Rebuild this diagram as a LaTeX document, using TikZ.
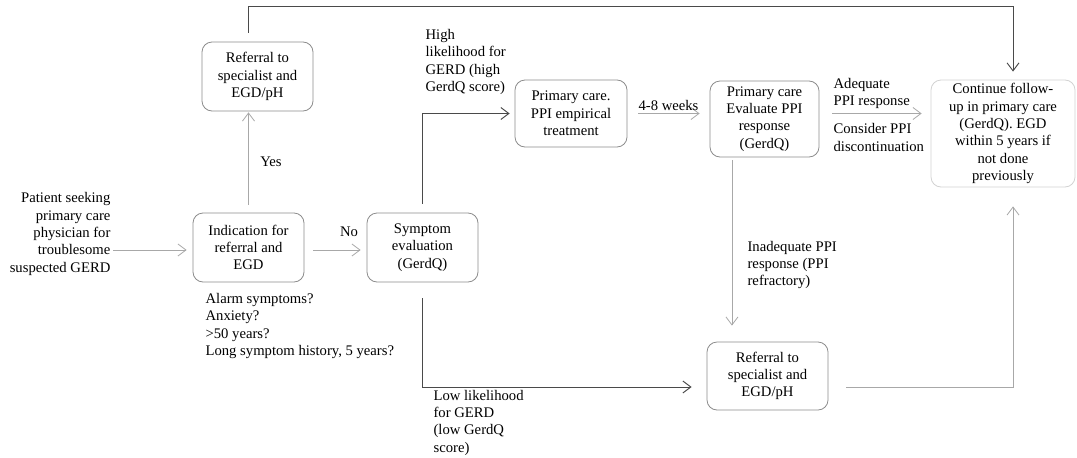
\documentclass[tikz,border=0pt]{standalone}
\usepackage{fontspec}
\setmainfont{Liberation Serif}
\usetikzlibrary{arrows.meta}
\definecolor{boxgray}{HTML}{8C8C8C}
\definecolor{faintgray}{HTML}{D2D2D2}
\definecolor{darkline}{HTML}{4A4A4A}
\definecolor{lightline}{HTML}{A8A8A8}
\begin{document}
\begin{tikzpicture}[x=0.75pt,y=-0.75pt,
  font=\fontsize{11}{13}\selectfont,
  box/.style={draw=boxgray, line width=0.6pt, rounded corners=7.5pt, align=center, inner sep=2pt},
  lbl/.style={inner sep=1pt, align=left},
  arr/.style={-{Straight Barb[length=6pt,width=9pt]}},
  dk/.style={draw=darkline, line width=0.7pt},
  lt/.style={draw=lightline, line width=0.6pt}
]
\useasboundingbox (0,0) rectangle (1077,457);

% boxes
\node[box, minimum width=83.25pt, minimum height=51.75pt] (ref1) at (257.5,76.5) {Referral to\\specialist and\\EGD/pH};
\node[box, minimum width=83.25pt, minimum height=51.75pt] (ind) at (248.5,247.5) {Indication for\\referral and\\EGD};
\node[box, minimum width=83.25pt, minimum height=51.75pt] (sym) at (422.5,247.5) {Symptom\\evaluation\\(GerdQ)};
\node[box, minimum width=84pt, minimum height=50.25pt] (ppi) at (571,113.5) {Primary care.\\PPI empirical\\treatment};
\node[box, minimum width=81.75pt, minimum height=57pt] (eval) at (764.5,119) {Primary care\\Evaluate PPI\\response\\(GerdQ)};
\node[box, draw=faintgray, minimum width=108pt, minimum height=80.25pt] (cont) at (1003,133.5) {Continue follow-\\up in primary care\\(GerdQ). EGD\\within 5 years if\\not done\\previously};
\node[box, minimum width=90.75pt, minimum height=51pt] (ref2) at (767.5,376) {Referral to\\specialist and\\EGD/pH};

% free text
\node[lbl, anchor=east, align=right] (pat) at (112,234) {Patient seeking\\primary care\\physician for\\troublesome\\suspected GERD};
\node[lbl, anchor=west] (alarm) at (204,326) {Alarm symptoms?\\Anxiety?\\>50 years?\\Long symptom history, 5 years?};
\node[lbl] (yes) at (271,162) {Yes};
\node[lbl] (no) at (349,232) {No};
\node[lbl, anchor=west] (high) at (424,62) {High\\likelihood for\\GERD (high\\GerdQ score)};
\node[lbl, anchor=west] (adeq) at (832,93.5) {Adequate\\PPI response};
\node[lbl, anchor=west] (cons) at (832,137.5) {Consider PPI\\discontinuation};
\node[lbl, anchor=west] (inad) at (746,265) {Inadequate PPI\\response (PPI\\refractory)};
\node[lbl, anchor=west] (low) at (432,422.5) {Low likelihood\\for GERD\\(low GerdQ\\score)};

\coordinate (rowA) at (0,250);
\coordinate (rowB) at (0,387);

% connectors
\draw[dk, arr, shorten <=6.75pt, shorten >=6pt] ([xshift=-7.1pt]ref1.north) -- ++(0,-35) -| ([xshift=7.5pt]cont.north);
\draw[lt, arr, shorten <=6pt, shorten >=0.75pt] (ind.north) -- (ind.north |- ref1.south);
\draw[lt, arr, shorten <=0.75pt, shorten >=4.5pt] (pat.east |- rowA) -- (ind.west |- rowA);
\draw[lt, arr, shorten <=6.75pt, shorten >=4.5pt] (ind.east |- rowA) -- (sym.west |- rowA);
\draw[dk, arr, shorten <=6.75pt, shorten >=3.75pt] (sym.north) |- (ppi.west);
\draw[lt, arr, shorten <=8.25pt, shorten >=7.5pt] (ppi.east) -- (eval.west |- ppi.east) node[lbl, midway, above=1pt] (wk) {4-8 weeks};
\draw[lt, arr, shorten <=9.75pt, shorten >=6.75pt] (eval.east |- ppi.east) -- (cont.west |- ppi.east);
\draw[lt, arr, shorten <=2.25pt, shorten >=12pt] ([xshift=-24.4pt]eval.south) -- ([xshift=-24.4pt]eval.south |- ref2.north);
\draw[dk, arr, shorten <=12pt, shorten >=11.25pt] (sym.south) |- (ref2.west |- rowB);
\draw[lt, arr, shorten <=13.5pt, shorten >=14.25pt] (ref2.east |- rowB) -| ([xshift=7.5pt]cont.south);
\end{tikzpicture}
\end{document}
